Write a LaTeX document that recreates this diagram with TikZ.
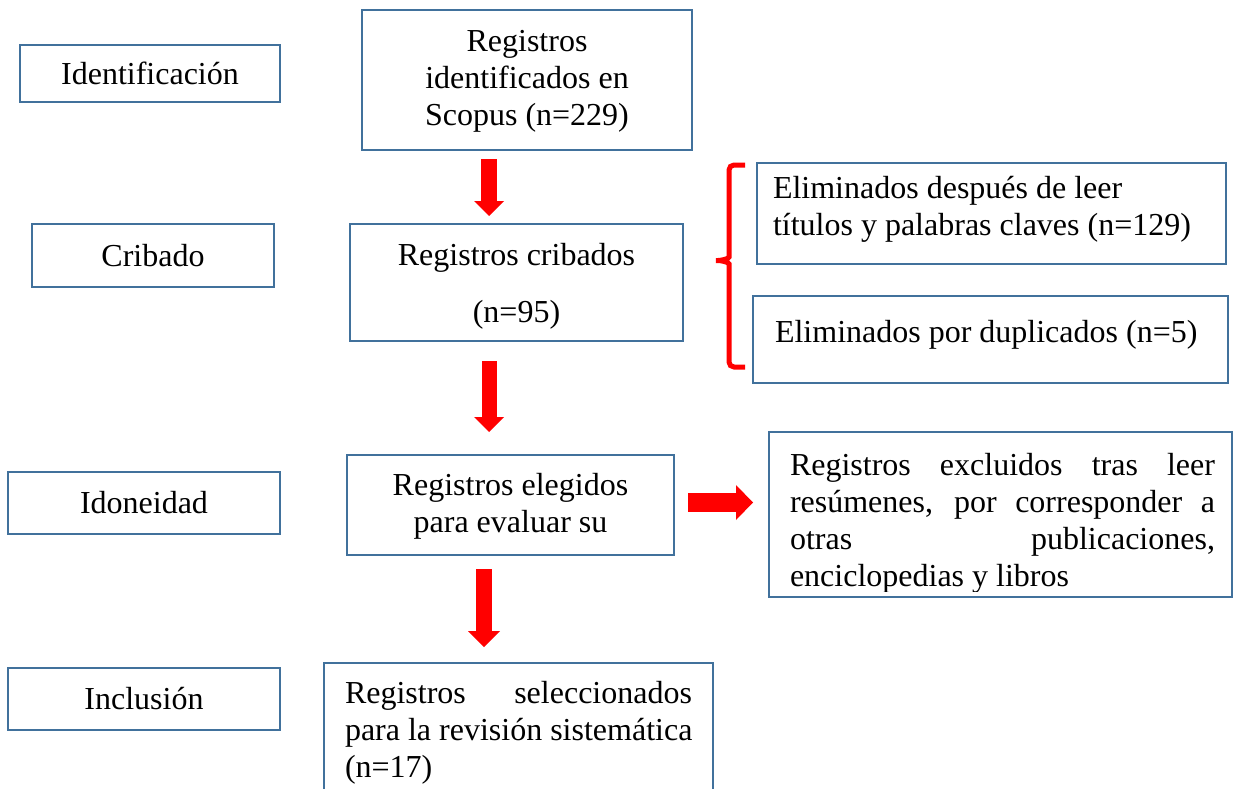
\documentclass[tikz,border=0pt]{standalone}
\usepackage{fontspec}
\setmainfont{Liberation Serif}
\usetikzlibrary{arrows.meta}
\definecolor{boxblue}{HTML}{41719C}
\definecolor{arrred}{HTML}{FF0000}
\begin{document}
\begin{tikzpicture}[x=1pt,y=-1pt,
  box/.style={draw=boxblue,line width=2.5pt,inner sep=0pt,outer sep=0pt},
  txt/.style={inner sep=0pt,outer sep=0pt,font=\fontsize{32}{37}\selectfont},
  bigarrow/.style={draw=arrred,line width=16pt,-{Triangle[width=30pt,length=15pt,line width=0pt]}},
  bracestyle/.style={draw=arrred,line width=5pt,rounded corners=5pt}]
\useasboundingbox (0,0) rectangle (1234,789);
\fill[white] (0,0) rectangle (1234,789);

% stage boxes (left column)
\node[box,minimum width=260pt,minimum height=57pt] (idb) at (150,73.5) {};
\node[txt,anchor=base] (idt) at (150,85) {Identificación};
\node[box,minimum width=242pt,minimum height=63pt] (crb) at (153,255.5) {};
\node[txt,anchor=base] (crt) at (153,266) {Cribado};
\node[box,minimum width=272pt,minimum height=62pt] (iob) at (144,503) {};
\node[txt,anchor=base] (iot) at (144,513) {Idoneidad};
\node[box,minimum width=272pt,minimum height=62pt] (inb) at (144,699) {};
\node[txt,anchor=base] (int) at (144,709) {Inclusión};

% main column
\node[box,minimum width=330pt,minimum height=140pt] (topb) at (527,80) {};
\node[txt,anchor=north,align=center] (topt) at (527,26.1)
  {\strut Registros\\\strut identificados en\\\strut Scopus (n=229)};
\node[box,minimum width=333pt,minimum height=117pt] (cribb) at (516.5,282.5) {};
\node[txt,anchor=north,align=center] (cribt) at (516.5,239.1)
  {\strut Registros cribados\\[20pt]\strut (n=95)};
\node[box,minimum width=327pt,minimum height=100pt] (elegb) at (510.5,505) {};
\node[txt,anchor=north,align=center] (elegt) at (510.5,469.1)
  {\strut Registros elegidos\\\strut para evaluar su};
\node[box,minimum width=389pt,minimum height=140pt,anchor=north] (selb) at (518.5,663) {};
\node[txt,anchor=north west,align=left] (selt) at (345,677.1)
  {\strut\makebox[347pt][s]{Registros seleccionados}\\\strut para la revisión sistemática\\\strut (n=17)};

% right column
\node[box,minimum width=469pt,minimum height=101pt] (el1b) at (991.5,213.5) {};
\node[txt,anchor=north west,align=left] (el1t) at (773,172.1)
  {\strut Eliminados después de leer\\\strut títulos y palabras claves (n=129)};
\node[box,minimum width=475pt,minimum height=87pt] (el2b) at (990.5,339.5) {};
\node[txt,anchor=base west] (el2t) at (775,342) {Eliminados por duplicados (n=5)};
\node[box,minimum width=463pt,minimum height=165pt] (exb) at (1000.5,514.5) {};
\begin{scope}
  \clip (769,432) rectangle (1232,591.5);
  \node[txt,anchor=north west,align=left] (ext) at (790,449.1)
    {\strut\makebox[425pt][s]{Registros excluidos tras leer}\\
     \strut\makebox[425pt][s]{resúmenes, por corresponder a}\\
     \strut\makebox[425pt][s]{otras publicaciones,}\\
     \strut enciclopedias y libros};
\end{scope}

% brace
\draw[bracestyle] (745,165) -| (729,252) to[out=-90,in=0] (713,260.5)
  to[out=0,in=90] (729,269) |- (745,367);

% arrows
\draw[bigarrow,shorten <=9pt,shorten >=8pt]
  ([xshift=-38pt]topb.south) -- ([xshift=-38pt]topb.south |- cribb.north);
\draw[bigarrow,line width=15pt,shorten <=20pt,shorten >=23pt]
  ([xshift=-27.5pt]cribb.south) -- ([xshift=-27.5pt]cribb.south |- elegb.north);
\draw[draw=arrred,line width=16pt,-{Triangle[width=32pt,length=16pt,line width=0pt]},shorten <=14pt,shorten >=16pt]
  ([xshift=-26.5pt]elegb.south) -- ([xshift=-26.5pt]elegb.south |- selb.north);
\draw[draw=arrred,line width=19pt,-{Triangle[width=35pt,length=17pt,line width=0pt]},shorten <=14pt,shorten >=16pt]
  ([yshift=2.5pt]elegb.east) -- ([yshift=2.5pt]elegb.east -| exb.west);
\end{tikzpicture}
\end{document}
